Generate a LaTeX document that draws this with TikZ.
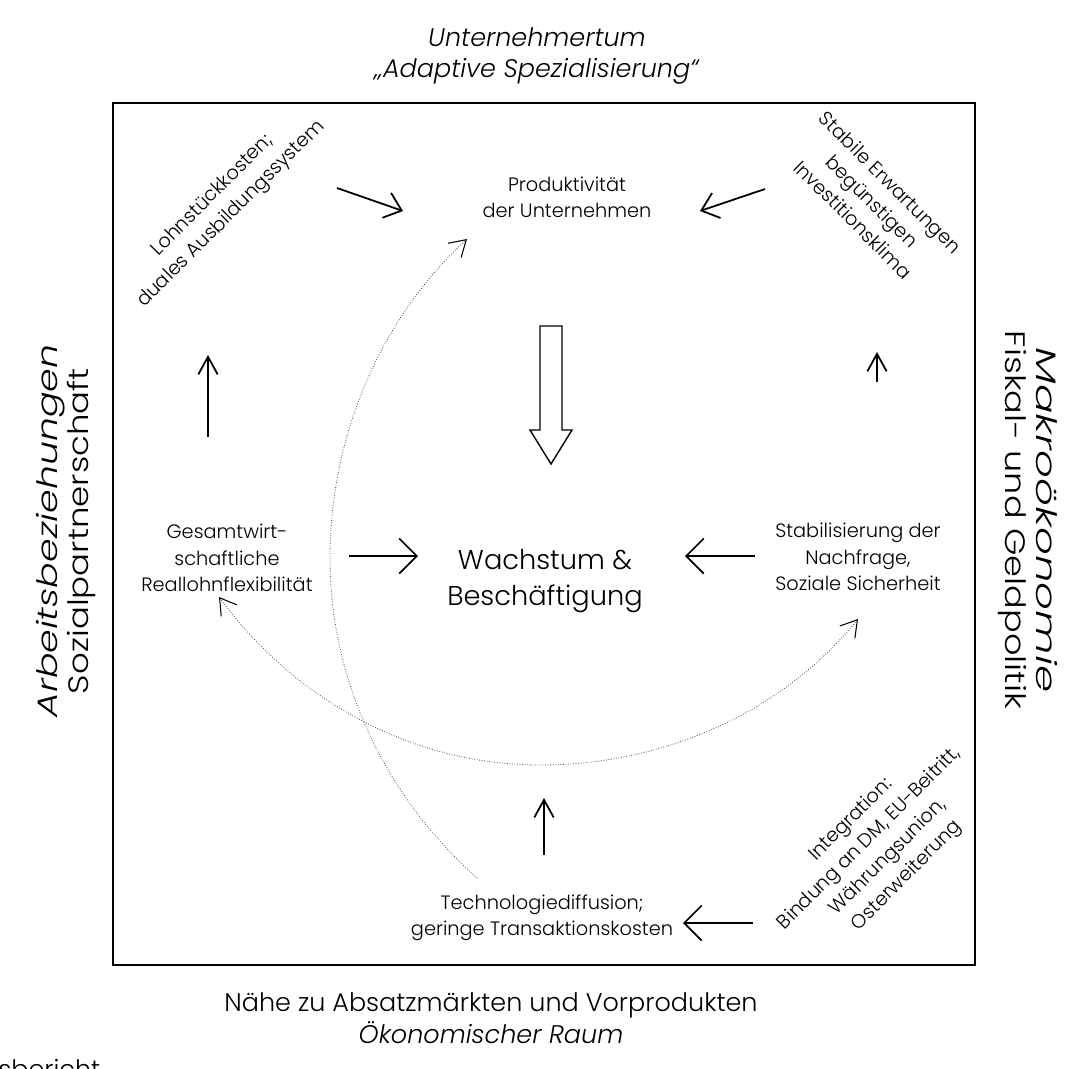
\documentclass[tikz,border=0pt]{standalone}
\usepackage{fontspec}
\setmainfont{Poppins}[UprightFont={* Light},ItalicFont={* Light Italic}]
\usetikzlibrary{arrows.meta}

\begin{document}
\begin{tikzpicture}[x=0.02cm, y=-0.02cm,
  txt/.style={align=center, inner sep=0pt, font=\fontsize{11}{15}\selectfont},
  bigtxt/.style={align=center, inner sep=0pt, font=\fontsize{15.5}{20}\selectfont},
  outer/.style={align=center, inner sep=0pt, font=\fontsize{14.5}{18}\selectfont},
  sidetxt/.style={align=center, inner sep=0pt, font=\fontsize{16}{17.5}\selectfont},
  arr/.style={line width=1pt, -{Straight Barb[length=10pt, width=20pt, line width=1pt]}},
  uparr/.style={line width=1pt, -{Straight Barb[length=10pt, width=11pt, line width=1pt]}},
  diagarr/.style={line width=1pt, -{Straight Barb[length=9pt, width=15pt, line width=1pt]}},
  fbtip/.tip={Straight Barb[length=9pt, width=11pt, line width=0.6pt, black]},
  feedback/.style={densely dotted, line width=0.45pt, black!70}]

\useasboundingbox (0,0) rectangle (1073,1069);

% Frame
\draw[line width=1pt] (113,103) rectangle (975,965);

% Outer labels
\node[outer] (top) at (537,56) {\itshape Unternehmertum\\\itshape „Adaptive Spezialisierung“};
\node[outer] (bottom) at (491,1018) {Nähe zu Absatzmärkten und Vorprodukten\\\itshape Ökonomischer Raum};
\node[sidetxt, rotate=90] (left) at (66,531)
  {\scalebox{1.35}[1]{\itshape Arbeitsbeziehungen}\\\scalebox{1.21}[1]{Sozialpartnerschaft}};
\node[sidetxt, rotate=-90] (right) at (1028,520)
  {\scalebox{1.55}[1]{\itshape Makroökonomie}\\\scalebox{1.25}[1]{Fiskal- und Geldpolitik}};
\node[outer, anchor=base west] (src) at (-2,1078) {sbericht};

% Inner labels
\node[txt] (prod) at (567,197) {Produktivität\\der Unternehmen};
\node[bigtxt] (wachstum) at (545,581) {Wachstum \&\\Beschäftigung};
\node[txt] (gesamt) at (227,558) {Gesamtwirt-\\schaftliche\\Reallohnflexibilität};
\node[txt] (stabil) at (858,557) {Stabilisierung der\\Nachfrage,\\Soziale Sicherheit};
\node[txt] (tech) at (542,918) {Technologiediffusion;\\geringe Transaktionskosten};
\node[txt, rotate=45] (lohn) at (222,205) {Lohnstückkosten;\\duales Ausbildungssystem};
\node[txt, rotate=-45] (erwart) at (872,201) {Stabile Erwartungen\\begünstigen\\Investitionsklima};
\node[txt, rotate=45] (integ) at (879,848) {Integration:\\Bindung an DM, EU-Beitritt,\\Währungsunion,\\Osterweiterung};

% Arrow ends
\coordinate (lohnA) at (337,188);
\coordinate (lohnB) at (403,211);
\coordinate (erwA) at (765,189);
\coordinate (erwB) at (700,211);
\coordinate (gesA) at (208,437);
\coordinate (gesB) at (208,355);
\coordinate (stabA) at (877,382);
\coordinate (stabB) at (877,352);
\coordinate (gwA) at (349,556);
\coordinate (gwB) at (418,556);
\coordinate (swA) at (755,556);
\coordinate (swB) at (685,556);
\coordinate (techA) at (544,855);
\coordinate (techB) at (544,798);
\coordinate (intA) at (753,923);
\coordinate (intB) at (683,923);

\draw[diagarr] (lohnA) -- (lohnB);
\draw[diagarr] (erwA) -- (erwB);
\draw[uparr] (gesA) -- (gesB);
\draw[uparr] (stabA) -- (stabB);
\draw[arr] (gwA) -- (gwB);
\draw[arr] (swA) -- (swB);
\draw[uparr] (techA) -- (techB);
\draw[arr] (intA) -- (intB);

% Hollow arrow
\draw[line width=0.8pt, line join=miter] (540,326) -- (562,326) -- (562,430) -- (572,430)
  -- (551,464) -- (530,430) -- (540,430) -- cycle;

% Feedback curves
\coordinate (c1A) at (477,878);
\coordinate (c1M) at (330,558);
\coordinate (c1B) at (467,239);
\coordinate (c2A) at (219,597);
\coordinate (c2M) at (540,765);
\coordinate (c2B) at (858,619);

\draw[feedback, -fbtip] (c1A) .. controls (385,796) and (330,681) .. (c1M)
  .. controls (330,438) and (379,320) .. (c1B);
\draw[feedback, fbtip-fbtip]
  (c2A) .. controls (295,700) and (412,765) .. (c2M)
  .. controls (662,765) and (781,714) .. (c2B);

\end{tikzpicture}
\end{document}
